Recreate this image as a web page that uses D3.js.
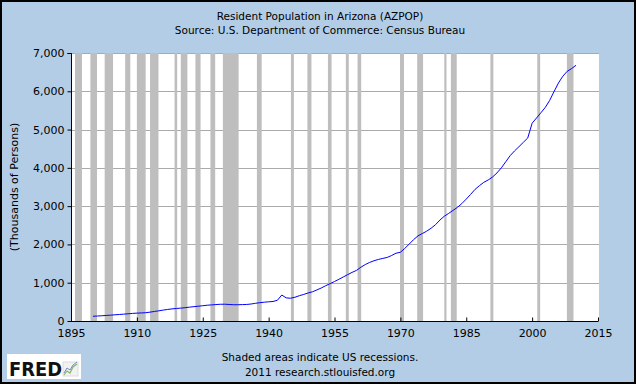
<!DOCTYPE html>
<html>
<head>
<meta charset="utf-8">
<script src="https://cdn.jsdelivr.net/npm/d3@7"></script>
<style>
  html, body { margin: 0; padding: 0; background: #fff; }
  svg { display: block; }
  text { font-family: "DejaVu Sans", Verdana, sans-serif; }
</style>
</head>
<body>
<svg id="chart" width="636" height="384"></svg>
<script>
// ---- data ----
const years = d3.range(1900, 2011);
const population = [
  124, 130, 137, 145, 153, 162, 170, 179, 188, 198,
  206, 210, 217, 231, 249, 266, 285, 302, 316, 327,
  336, 348, 362, 375, 387, 399, 412, 420, 429, 437,
  438, 432, 425, 425, 428, 432, 444, 462, 478, 491,
  501, 510, 542, 679, 604, 595, 621, 661, 694, 733,
  763, 812, 863, 922, 975, 1031, 1090, 1150, 1211, 1270,
  1321, 1404, 1474, 1530, 1574, 1608, 1635, 1660, 1710, 1770,
  1795, 1896, 2008, 2124, 2223, 2285, 2347, 2424, 2515, 2636,
  2737, 2810, 2890, 2968, 3067, 3184, 3308, 3437, 3535, 3622,
  3684, 3762, 3868, 4001, 4160, 4319, 4442, 4553, 4667, 4779,
  5167, 5302, 5439, 5580, 5763, 5994, 6218, 6394, 6524, 6594,
  6680
];
// recession start/end as decimal years (NBER peaks/troughs)
const recessionStarts = [1895.92, 1899.42, 1902.67, 1907.33, 1910.0, 1913.0, 1918.58, 1920.0, 1923.33, 1926.75, 1929.58, 1937.33, 1945.08, 1948.83, 1953.5, 1957.58, 1960.25, 1969.92, 1973.83, 1980.0, 1981.5, 1990.5, 2001.17, 2007.92];
const recessionEnds   = [1897.5, 1900.92, 1904.58, 1908.5, 1912.0, 1914.92, 1919.17, 1921.5, 1924.5, 1927.83, 1933.17, 1938.42, 1945.75, 1949.75, 1954.33, 1958.25, 1961.08, 1970.83, 1975.17, 1980.5, 1982.83, 1991.17, 2001.83, 2009.42];
const xTicks = [1895, 1910, 1925, 1940, 1955, 1970, 1985, 2000, 2015];
const yTicks = [0, 1000, 2000, 3000, 4000, 5000, 6000, 7000];

const titleLines = ["Resident Population in Arizona (AZPOP)", "Source: U.S. Department of Commerce: Census Bureau"];
const yLabel = "(Thousands of Persons)";
const footLines = ["Shaded areas indicate US recessions.", "2011 research.stlouisfed.org"];

// ---- layout ----
const W = 636, H = 384;
const plot = { left: 71, right: 599, top: 53, bottom: 321 };

const svg = d3.select("#chart");

svg.append("rect").attr("x", 1).attr("y", 1).attr("width", W - 2).attr("height", H - 2)
  .attr("fill", "#B4CDE6").attr("stroke", "#000").attr("stroke-width", 2);

const x = d3.scaleLinear().domain([1895, 2015]).range([plot.left, plot.right - 1]);
const y = d3.scaleLinear().domain([0, 7000]).range([plot.bottom, plot.top]);

// plot background
svg.append("rect").attr("x", plot.left).attr("y", plot.top)
  .attr("width", plot.right - plot.left).attr("height", plot.bottom - plot.top)
  .attr("fill", "#fff");

// gridlines
svg.append("g").selectAll("line").data(yTicks.filter(d => d > 0)).join("line")
  .attr("x1", plot.left).attr("x2", plot.right)
  .attr("y1", d => Math.round(y(d)) + 0.5).attr("y2", d => Math.round(y(d)) + 0.5)
  .attr("stroke", "#aaaaaa").attr("stroke-width", 1);

// recession bars
const rec = recessionStarts.map((s, i) => ({ s, e: recessionEnds[i] }));
svg.append("g").selectAll("rect").data(rec).join("rect")
  .attr("x", d => x(Math.max(d.s, 1895)))
  .attr("width", d => x(d.e) - x(Math.max(d.s, 1895)))
  .attr("y", plot.top).attr("height", plot.bottom - plot.top)
  .attr("fill", "#bebebe");

// line
const pts = years.map((yr, i) => [yr, population[i]]);
svg.append("path").datum(pts)
  .attr("fill", "none").attr("stroke", "#0000ff").attr("stroke-width", 1)
  .attr("d", d3.line().x(d => x(d[0])).y(d => y(d[1])));

// axes
const yAxis = d3.axisLeft(y).tickValues(yTicks).tickFormat(d3.format(",")).tickSize(4).tickPadding(3);
const gy = svg.append("g").attr("transform", `translate(${plot.left + 0.5},0)`).call(yAxis);
gy.select(".domain").attr("stroke", "#000").attr("d", `M-4,${y(7000)+0.5}H0V${plot.bottom + 0.5}`);
gy.selectAll(".tick line").attr("stroke", "#000");
gy.selectAll("text").attr("font-size", 11).attr("fill", "#000").attr("font-family", "DejaVu Sans, Verdana, sans-serif");

const xAxis = d3.axisBottom(x).tickValues(xTicks).tickFormat(d3.format("d")).tickSize(0).tickPadding(8);
const gx = svg.append("g").attr("transform", `translate(0,${plot.bottom + 0.5})`).call(xAxis);
gx.select(".domain").attr("stroke", "#000").attr("d", `M${plot.left},0H${plot.right - 1}`);
gx.selectAll(".tick").append("line").attr("y1", 0).attr("y2", -4).attr("stroke", "#000");
gx.selectAll("text").attr("font-size", 11).attr("fill", "#000").attr("font-family", "DejaVu Sans, Verdana, sans-serif");

// titles
svg.append("g").selectAll("text").data(titleLines).join("text")
  .attr("x", 320).attr("y", (d, i) => 20 + i * 13.5)
  .attr("text-anchor", "middle").attr("font-size", 10.5).attr("fill", "#000")
  .text(d => d);

svg.append("text")
  .attr("transform", `translate(18,${(plot.top + plot.bottom) / 2}) rotate(-90)`)
  .attr("text-anchor", "middle").attr("font-size", 11).attr("fill", "#000")
  .text(yLabel);

svg.append("g").selectAll("text").data(footLines).join("text")
  .attr("x", 320).attr("y", (d, i) => 361 + i * 15)
  .attr("text-anchor", "middle").attr("font-size", 10.5).attr("fill", "#000")
  .text(d => d);

// FRED logo
const logo = svg.append("g");
logo.append("rect").attr("x", 7).attr("y", 354).attr("width", 74).attr("height", 25).attr("fill", "#fff");
logo.append("text").attr("x", 9).attr("y", 376).attr("font-size", 19).attr("font-weight", "bold")
  .attr("font-family", "Liberation Sans, Arial, sans-serif").attr("fill", "#111")
  .attr("textLength", 53).attr("lengthAdjust", "spacingAndGlyphs").text("FRED");
logo.append("rect").attr("x", 63).attr("y", 362).attr("width", 15).attr("height", 14).attr("fill", "#f2f2f2").attr("stroke", "#dcdcdc");
logo.append("path").attr("d", "M64,375 L67,371 L70,373 L73,367 L77,364").attr("fill", "none").attr("stroke", "#8bb56b").attr("stroke-width", 1.2);
logo.append("path").attr("d", "M64,373 L67,368 L70,370 L73,365 L77,362").attr("fill", "none").attr("stroke", "#6b8fc5").attr("stroke-width", 1);
</script>
</body>
</html>
